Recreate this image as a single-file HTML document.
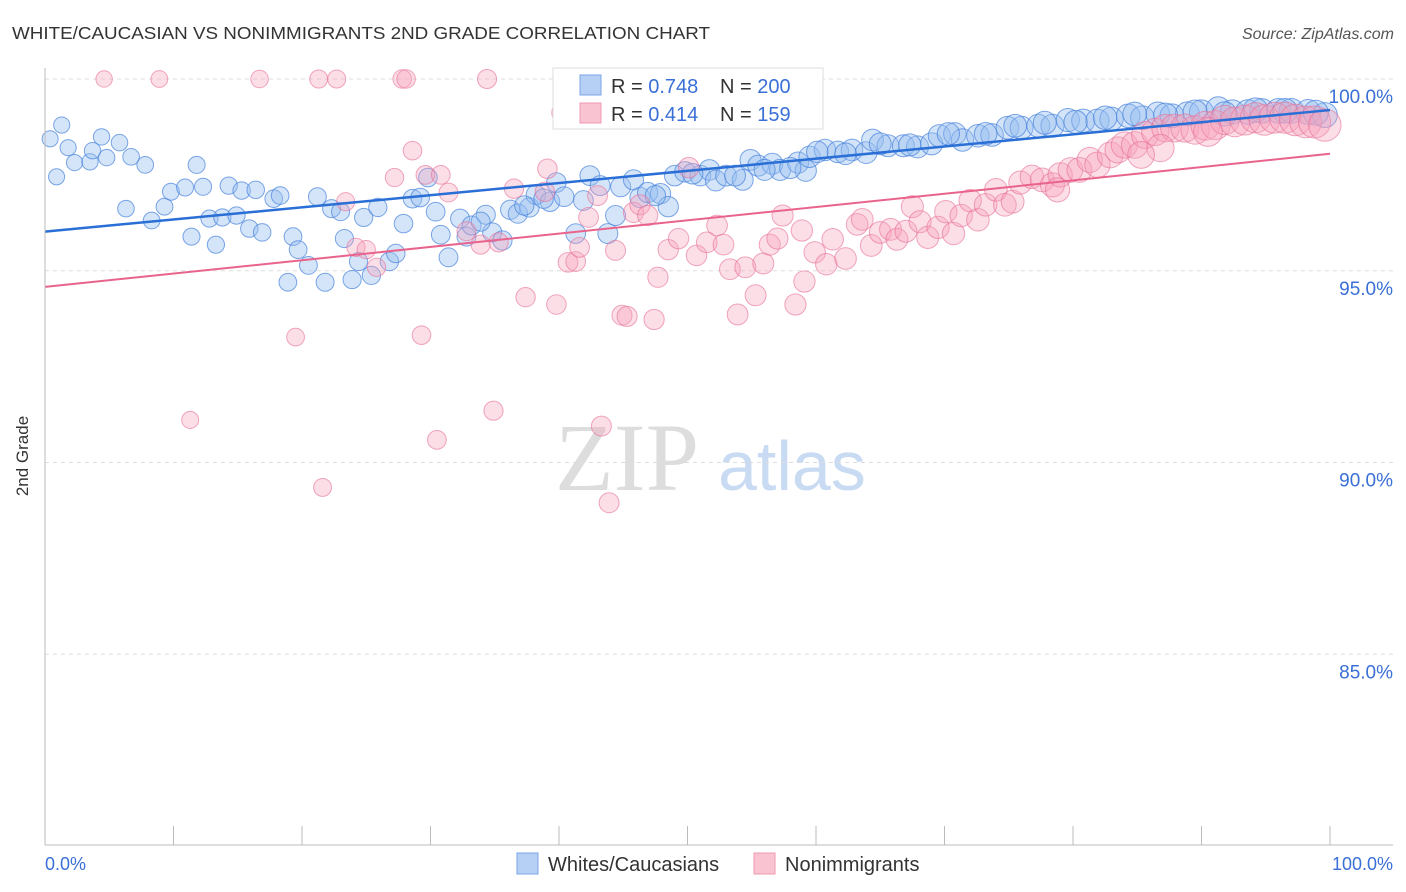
<!DOCTYPE html>
<html><head><meta charset="utf-8"><style>
body{margin:0;background:#fff;font-family:"Liberation Sans",sans-serif;}
#wrap{position:relative;width:1406px;height:892px;overflow:hidden;}
</style></head><body>
<div id="wrap">
<svg id="chart" width="1406" height="892" xmlns="http://www.w3.org/2000/svg">
<text x="12" y="39" font-size="17.5" fill="#333" textLength="698" lengthAdjust="spacingAndGlyphs">WHITE/CAUCASIAN VS NONIMMIGRANTS 2ND GRADE CORRELATION CHART</text>
<text x="1394" y="39" font-size="16" fill="#555" font-style="italic" text-anchor="end">Source: ZipAtlas.com</text>
<text x="555" y="490" font-size="96" fill="#ddd" font-family="Liberation Serif,serif">ZIP</text>
<text x="718" y="490" font-size="70" fill="#c9dbf3">atlas</text>
<g id="grid"></g><g id="pts"></g><g id="trend"></g>
<line x1="45" y1="68" x2="45" y2="845" stroke="#bbb"/>
<line x1="45" y1="845" x2="1393" y2="845" stroke="#bbb"/>
<text x="28" y="456" font-size="17" fill="#333" transform="rotate(-90 28 456)" text-anchor="middle">2nd Grade</text>
<text x="45" y="870" font-size="18" fill="#3a6fd8">0.0%</text>
<text x="1393" y="870" font-size="18" fill="#3a6fd8" text-anchor="end">100.0%</text>
<g>
<rect x="553" y="68" width="270" height="61" fill="#fff" stroke="#ddd"/>
<rect x="580" y="75" width="21" height="20" fill="#b5cff5" stroke="#7aa5e6"/>
<rect x="580" y="103" width="21" height="20" fill="#f9c3d2" stroke="#ee9ab3"/>
<text x="611" y="93" font-size="20" fill="#333">R = <tspan fill="#3a6fd8">0.748</tspan></text>
<text x="720" y="93" font-size="20" fill="#333">N = <tspan fill="#3a6fd8">200</tspan></text>
<text x="611" y="121" font-size="20" fill="#333">R = <tspan fill="#3a6fd8">0.414</tspan></text>
<text x="720" y="121" font-size="20" fill="#333">N = <tspan fill="#3a6fd8"> 159</tspan></text>
</g>
<g><rect x="517" y="853" width="21" height="21" fill="#b5cff5" stroke="#7aa5e6"/><text x="548" y="871" font-size="20" fill="#333">Whites/Caucasians</text></g>
<g><rect x="754" y="853" width="21" height="21" fill="#f9c3d2" stroke="#ee9ab3"/><text x="785" y="871" font-size="20" fill="#333">Nonimmigrants</text></g>
</svg>
</div>
<script>
const yTicks=[100,95,90,85];
const yTickLabels=["100.0%","95.0%","90.0%","85.0%"];
const xTicks=[0,10,20,30,40,50,60,70,80,90,100];
const blueX=[0.4,1.3,0.9,1.8,2.3,3.5,3.7,4.4,4.8,5.8,6.7,7.8,6.3,8.3,9.3,9.8,10.9,11.4,11.8,12.3,12.8,13.3,13.8,14.3,14.9,15.3,15.9,16.4,16.9,17.8,18.3,18.9,19.3,19.7,20.5,21.2,21.8,22.3,23.0,23.3,23.9,24.4,24.8,25.4,25.9,26.8,27.3,27.9,28.6,29.2,29.8,30.4,30.8,31.4,32.3,32.8,33.2,34.3,34.8,35.6,36.2,36.8,37.7,38.2,39.3,39.8,40.4,41.3,41.9,42.4,43.2,43.8,44.4,44.8,45.8,46.3,46.9,47.9,48.5,49.0,49.8,51.0,51.7,52.2,53.0,54.3,54.9,55.5,56.6,57.2,58.6,59.2,59.5,60.7,61.7,62.8,63.9,64.4,65.6,66.8,67.9,69.0,69.6,70.8,71.4,72.6,73.7,74.9,76.0,77.3,78.4,79.6,80.8,81.9,83.0,84.3,85.4,86.6,87.7,88.9,90.0,91.3,92.4,93.6,94.7,96.0,97.0,98.3,99.6,60.1,62.3,65.0,67.3,70.3,73.2,75.5,77.8,80.2,82.5,84.8,87.2,89.5,91.8,94.2,96.5,98.9,56.0,58.0,53.7,50.4,47.5,38.8,37.3,33.9];
const blueY=[98.44,98.80,97.45,98.21,97.82,97.84,98.13,98.49,97.95,98.34,97.97,97.76,96.62,96.31,96.67,97.06,97.17,95.89,97.76,97.19,96.36,95.68,96.39,97.22,96.44,97.09,96.10,97.11,96.00,96.88,96.96,94.70,95.89,95.55,95.14,96.93,94.70,96.62,96.54,95.84,94.77,95.24,96.39,94.88,96.65,95.24,95.45,96.23,96.88,96.91,97.43,96.54,95.94,95.35,96.36,95.89,96.18,96.46,96.00,95.79,96.59,96.49,96.65,96.98,96.80,97.30,96.93,95.97,96.83,97.48,97.22,95.97,96.44,97.19,97.37,96.91,97.04,97.01,96.67,97.48,97.58,97.48,97.63,97.35,97.48,97.37,97.89,97.74,97.79,97.63,97.82,97.61,97.97,98.15,98.10,98.15,98.08,98.41,98.26,98.26,98.23,98.31,98.52,98.57,98.41,98.52,98.54,98.73,98.73,98.78,98.78,98.93,98.91,98.91,98.96,99.04,98.99,99.09,99.04,99.09,99.14,99.22,99.14,99.14,99.17,99.17,99.17,99.14,99.06,98.10,98.05,98.31,98.28,98.57,98.57,98.78,98.86,98.88,98.99,99.09,99.06,99.14,99.09,99.19,99.17,99.12,97.63,97.68,97.48,97.53,96.96,96.88,96.70,96.28];
const pinkX=[4.6,8.9,16.7,21.3,22.7,27.8,28.1,34.4,40.2,28.6,29.6,30.8,31.4,27.2,23.4,24.2,25.0,25.8,19.5,11.3,21.6,29.3,30.5,34.9,43.3,43.9,32.8,33.9,35.3,36.5,37.4,38.9,39.8,39.1,40.7,41.3,41.6,43.0,42.3,44.4,44.9,45.3,47.4,45.8,46.3,46.9,47.7,48.5,49.3,50.1,50.7,51.5,52.3,52.8,53.3,53.9,54.5,55.3,55.9,56.4,57.0,57.4,58.4,59.1,58.9,59.9,60.8,61.3,62.3,63.2,63.6,64.3,65.0,65.8,66.3,67.0,67.5,68.1,68.7,69.5,70.1,70.7,71.3,72.0,72.6,73.2,74.0,74.7,75.3,75.9,76.8,77.6,78.4,79.0,79.8,80.5,81.3,81.9,82.9,83.5,84.0,84.8,85.6,86.4,87.2,87.9,88.7,89.5,90.3,91.1,91.8,92.6,93.4,94.2,94.9,95.7,96.5,97.3,98.1,98.8,99.6,90.5,86.8,85.3,78.8];
const pinkY=[100,100,100,100,100,100,100,100,99.12,98.13,97.50,97.50,97.04,97.43,96.80,95.61,95.55,95.09,93.27,91.11,89.35,93.32,90.59,91.35,90.95,88.95,96.03,95.68,95.74,97.14,94.31,97.06,94.12,97.66,95.22,95.24,95.61,96.96,96.39,95.53,93.84,93.81,93.73,96.52,96.72,96.44,94.83,95.55,95.84,97.69,95.40,95.74,96.18,95.68,95.04,93.86,95.09,94.36,95.19,95.68,95.84,96.44,94.12,94.72,96.05,95.48,95.17,95.82,95.32,96.21,96.34,95.66,96.00,96.08,95.82,96.03,96.67,96.28,95.87,96.13,96.54,95.97,96.44,96.83,96.33,96.72,97.11,96.72,96.80,97.30,97.45,97.37,97.24,97.50,97.63,97.63,97.89,97.76,98.02,98.15,98.28,98.28,98.54,98.62,98.72,98.72,98.72,98.67,98.78,98.80,98.93,98.88,98.93,98.99,98.93,98.99,98.99,98.93,98.88,98.88,98.80,98.62,98.20,98.02,97.11];
const blueTrend=[96.02,99.19];
const pinkTrend=[94.58,98.05];
const NS="http://www.w3.org/2000/svg";
function xs(v){return 45+v*12.85;}
function ys(v){return 79+(100-v)*38.35;}
function mk(tag,attrs,parent){const e=document.createElementNS(NS,tag);for(const k in attrs)e.setAttribute(k,attrs[k]);document.getElementById(parent).appendChild(e);return e;}
yTicks.forEach((t,i)=>{
  const l=mk('line',{x1:45,x2:1393,y1:ys(t),y2:ys(t),stroke:'#ddd','stroke-dasharray':'4,4'},'grid');
  
  
  const tx=mk('text',{x:1393,y:ys(t)+24,'font-size':19,fill:'#3a6fd8','text-anchor':'end'},'grid');
  tx.textContent=yTickLabels[i];
  
  
});
xTicks.forEach(t=>{
  const l=mk('line',{x1:xs(t),x2:xs(t),y1:826,y2:845,stroke:'#bbb'},'grid');
  
  
});
function drawPts(X,Y,fill,stroke,name){
  X.forEach((x,i)=>{
    const r=8+x*0.045+(name==='pink-point'&&x>75?(x-75)*0.15:0);
    const c=mk('circle',{cx:xs(x),cy:ys(Y[i]),r:r,fill:fill,stroke:stroke,'stroke-width':1},'pts');
    
    
  });
}
drawPts(blueX,blueY,'rgba(150,190,240,0.4)','rgba(70,130,220,0.7)','blue-point');
drawPts(pinkX,pinkY,'rgba(245,160,185,0.35)','rgba(230,110,150,0.6)','pink-point');
const bl=mk('line',{x1:xs(0),y1:ys(blueTrend[0]),x2:xs(100),y2:ys(blueTrend[1]),stroke:'#2a6fd6','stroke-width':2.5},'trend');


const pl=mk('line',{x1:xs(0),y1:ys(pinkTrend[0]),x2:xs(100),y2:ys(pinkTrend[1]),stroke:'#e8648c','stroke-width':2},'trend');


</script>
</body></html>
